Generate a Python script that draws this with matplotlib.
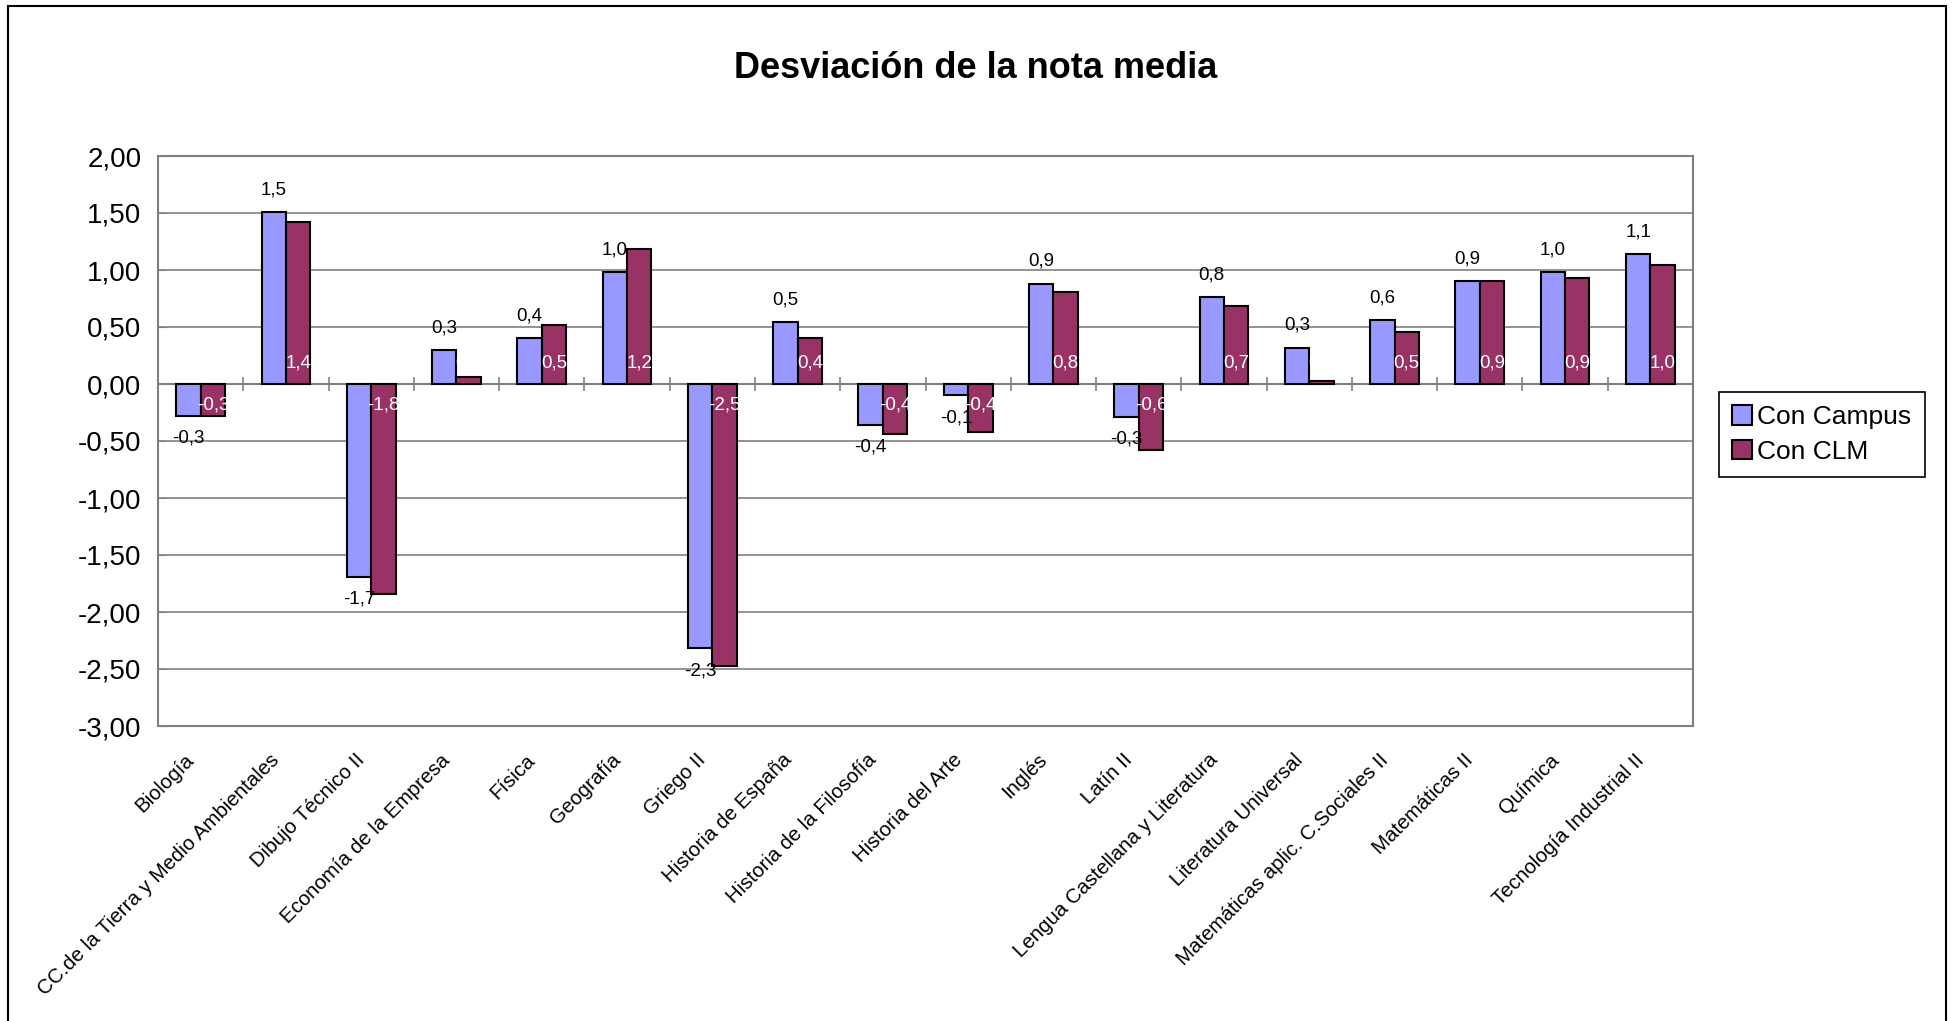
import numpy as np
import matplotlib
matplotlib.use("Agg")
import matplotlib.pyplot as plt
import matplotlib.transforms as mtransforms
from matplotlib.patches import Rectangle

plt.rcParams['font.family'] = ['Liberation Sans', 'DejaVu Sans']

# --- Datos ---
asignaturas = ["Biología", "CC.de la Tierra y Medio Ambientales", "Dibujo Técnico II",
               "Economía de la Empresa", "Física", "Geografía", "Griego II",
               "Historia de España", "Historia de la Filosofía", "Historia del Arte",
               "Inglés", "Latín II", "Lengua Castellana y Literatura",
               "Literatura Universal", "Matemáticas aplic. C.Sociales II",
               "Matemáticas II", "Química", "Tecnología Industrial II"]
con_campus = [-0.28, 1.51, -1.69, 0.30, 0.40, 0.98, -2.32, 0.54, -0.36, -0.10,
              0.88, -0.29, 0.76, 0.32, 0.56, 0.90, 0.98, 1.14]
con_clm = [-0.28, 1.42, -1.84, 0.06, 0.52, 1.18, -2.47, 0.40, -0.44, -0.42,
           0.81, -0.58, 0.68, 0.03, 0.46, 0.90, 0.93, 1.04]
y_ticks = [-3.0, -2.5, -2.0, -1.5, -1.0, -0.5, 0.0, 0.5, 1.0, 1.5, 2.0]

COL_CAMPUS = "#9999FF"
COL_CLM = "#993366"
GRIS = "#808080"


def coma(v, dec):
    return f"{v:.{dec}f}".replace(".", ",")


fig = plt.figure(figsize=(19.52, 10.21), dpi=100)
ax = fig.add_axes([158 / 1952, 1 - 726 / 1021, (1693 - 158) / 1952, (726 - 156) / 1021])

x = np.arange(len(asignaturas))
w = 1 / 3.5
b1 = ax.bar(x - w / 2, con_campus, w, color=COL_CAMPUS, edgecolor="black", linewidth=1.5,
            label="Con Campus", zorder=3)
b2 = ax.bar(x + w / 2, con_clm, w, color=COL_CLM, edgecolor="black", linewidth=1.5,
            label="Con CLM", zorder=3)

# etiquetas: Campus fuera del extremo, CLM en la base (blanco)
for xi, v in zip(x - w / 2, con_campus):
    off = 16 if v >= 0 else -16
    ax.annotate(coma(v, 1), (xi, v), xytext=(0, off), textcoords="offset points",
                ha="center", va="center", fontsize=13.5, color="black", zorder=4)
for xi, v in zip(x + w / 2, con_clm):
    off = 15 if v >= 0 else -15
    ax.annotate(coma(v, 1), (xi, 0), xytext=(0, off), textcoords="offset points",
                ha="center", va="center", fontsize=13.5, color="white", zorder=4)

ax.set_xlim(-0.5, len(asignaturas) - 0.5)
ax.set_ylim(-3, 2)
ax.set_yticks(y_ticks)
ax.set_yticklabels([coma(t, 2) for t in y_ticks], fontsize=20)
ax.tick_params(axis="y", direction="in", length=6, color=GRIS, pad=12)
ax.set_xticks(x)
ax.set_xticklabels(asignaturas, rotation=45, ha="right", rotation_mode="anchor", fontsize=14.8)
ax.tick_params(axis="x", length=0, pad=14)
desplaza = mtransforms.ScaledTranslation(-0.16, -0.05, fig.dpi_scale_trans)
for lab in ax.get_xticklabels():
    lab.set_transform(lab.get_transform() + desplaza)
ax.yaxis.grid(True, color=GRIS, linewidth=1.2, zorder=0)
ax.set_axisbelow(True)
for s in ax.spines.values():
    s.set_color(GRIS)
    s.set_linewidth(1.5)

# eje de categorías en cero con marcas
ax.axhline(0, color=GRIS, linewidth=1.5, zorder=2)
ax.plot(np.arange(len(asignaturas) + 1) - 0.5, np.zeros(len(asignaturas) + 1),
        linestyle="none", marker="|", markersize=10, markeredgewidth=1.2, color=GRIS,
        zorder=2, clip_on=False)

fig.text(0.5, 1 - 69 / 1021, "Desviación de la nota media", ha="center", va="center",
         fontsize=26, fontweight="bold")

leg = ax.legend(handles=[b1, b2], loc="upper left",
                bbox_to_anchor=(1719 / 1952, 1 - 392 / 1021), bbox_transform=fig.transFigure,
                fontsize=19, fancybox=False, framealpha=1, edgecolor="black",
                handlelength=0.75, handleheight=0.75, handletextpad=0.2,
                borderpad=0.5, labelspacing=0.4, borderaxespad=0)
leg.get_frame().set_linewidth(1.2)

# marco exterior del gráfico
fig.patches.append(Rectangle((8 / 1952, -0.01), (1946 - 8) / 1952, 1.01 - 6 / 1021,
                             transform=fig.transFigure, fill=False, edgecolor="black",
                             linewidth=1.5))

fig.savefig("out.png", dpi=100)
